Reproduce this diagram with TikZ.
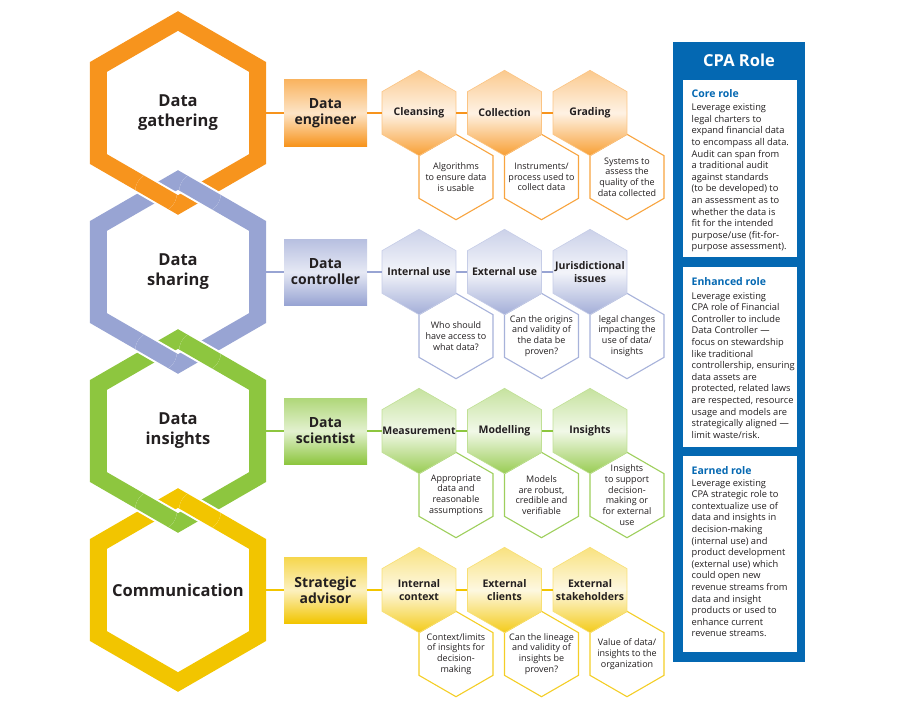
\documentclass[tikz,border=0pt]{standalone}
\usepackage{fontspec}
\setmainfont{Open Sans}
\usetikzlibrary{shapes.geometric, positioning, calc}
\definecolor{cgather}{RGB}{247,148,29}
\definecolor{cshare}{RGB}{152,164,211}
\definecolor{cinsight}{RGB}{141,198,63}
\definecolor{ccomm}{RGB}{242,197,0}
\definecolor{cpablue}{RGB}{4,104,178}
\definecolor{inkdark}{RGB}{35,31,32}

\begin{document}
\begin{tikzpicture}[x=1pt, y=-1pt,
    ring/.style={line width=17pt, line join=miter},
    ringover/.style={draw=white, line width=2pt, double=#1, double distance=17pt, line join=miter},
    hubtext/.style={align=center, inner sep=0pt, font=\bfseries\fontsize{16.5}{20}\selectfont, text=inkdark},
    rolebox/.style={rectangle, minimum width=83pt, minimum height=66pt, inner sep=0pt, align=center, font=\bfseries\fontsize{14}{16}\selectfont, text=inkdark, top color=#1!70, bottom color=#1, middle color=#1!25},
    tophex/.style={regular polygon, regular polygon sides=6, shape border rotate=30, minimum size=85.4pt, inner sep=0pt, draw=#1!55, line width=0.6pt, top color=#1!50, bottom color=#1!90, middle color=#1!12},
    toptext/.style={align=center, inner sep=0pt, font=\bfseries\fontsize{10.5}{13}\selectfont, text=inkdark},
    deschex/.style={regular polygon, regular polygon sides=6, shape border rotate=30, minimum size=85.4pt, inner sep=0pt, fill=white, draw=#1!85, line width=1.1pt},
    desctext/.style={align=center, inner sep=0pt, font=\fontsize{9}{10.7}\selectfont, text=inkdark},
    link/.style={line width=2.5pt},
    cardbox/.style={rectangle, fill=white, minimum width=114pt, inner sep=0pt, anchor=north west},
    cardhead/.style={inner sep=0pt, anchor=base west, font=\bfseries\fontsize{10.5}{12}\selectfont, text=cpablue},
    cardtext/.style={align=left, inner sep=0pt, anchor=base west, font=\fontsize{9.3}{11.6}\selectfont, text=inkdark},
]
    \useasboundingbox (0,0) rectangle (904,706);

    % big hexagon labels
    \node[hubtext] (hub1) at (178,113) {Data\\gathering};
    \node[hubtext] (hub2) at (178,272) {Data\\sharing};
    \node[hubtext] (hub3) at (178,431) {Data\\insights};
    \node[hubtext] (hub4) at (178,590) {Communication};
    \coordinate (hub1e) at (262,113);
    \coordinate (hub2e) at (262,272);
    \coordinate (hub3e) at (262,431);
    \coordinate (hub4e) at (262,590);

    % roles
    \node[rolebox=cgather] (role1) at (325.5,113) {Data\\engineer};
    \node[rolebox=cshare] (role2) at (325.5,272) {Data\\controller};
    \node[rolebox=cinsight] (role3) at (325.5,431) {Data\\scientist};
    \node[rolebox=ccomm] (role4) at (325.5,590) {Strategic\\advisor};

    % description hexagons
    \node[deschex=cgather] (d11) at (456,177) {};
    \node[deschex=cgather] (d12) at (541.5,177) {};
    \node[deschex=cgather] (d13) at (627,177) {};
    \node[deschex=cshare] (d21) at (456,336) {};
    \node[deschex=cshare] (d22) at (541.5,336) {};
    \node[deschex=cshare] (d23) at (627,336) {};
    \node[deschex=cinsight] (d31) at (456,495) {};
    \node[deschex=cinsight] (d32) at (541.5,495) {};
    \node[deschex=cinsight] (d33) at (627,495) {};
    \node[deschex=ccomm] (d41) at (456,654) {};
    \node[deschex=ccomm] (d42) at (541.5,654) {};
    \node[deschex=ccomm] (d43) at (627,654) {};

    % task hexagons
    \node[tophex=cgather] (p11) at (419,113) {};
    \node[tophex=cgather] (p12) at (504.5,113) {};
    \node[tophex=cgather] (p13) at (590,113) {};
    \node[tophex=cshare] (p21) at (419,272) {};
    \node[tophex=cshare] (p22) at (504.5,272) {};
    \node[tophex=cshare] (p23) at (590,272) {};
    \node[tophex=cinsight] (p31) at (419,431) {};
    \node[tophex=cinsight] (p32) at (504.5,431) {};
    \node[tophex=cinsight] (p33) at (590,431) {};
    \node[tophex=ccomm] (p41) at (419,590) {};
    \node[tophex=ccomm] (p42) at (504.5,590) {};
    \node[tophex=ccomm] (p43) at (590,590) {};

    \node[toptext] (n11) at (p11) {Cleansing};
    \node[toptext] (n12) at (p12) {Collection};
    \node[toptext] (n13) at (p13) {Grading};
    \node[toptext] (n21) at (p21) {Internal use};
    \node[toptext] (n22) at (p22) {External use};
    \node[toptext] (n23) at (p23) {Jurisdictional\\issues};
    \node[toptext] (n31) at (p31) {Measurement};
    \node[toptext] (n32) at (p32) {Modelling};
    \node[toptext] (n33) at (p33) {Insights};
    \node[toptext] (n41) at (p41) {Internal\\context};
    \node[toptext] (n42) at (p42) {External\\clients};
    \node[toptext] (n43) at (p43) {External\\stakeholders};

    \node[desctext] (t11) at (d11) {Algorithms\\to ensure data\\is usable};
    \node[desctext] (t12) at (d12) {Instruments/\\process used to\\collect data};
    \node[desctext] (t13) at (d13) {Systems to\\assess the\\quality of the\\data collected};
    \node[desctext] (t21) at (d21) {Who should\\have access to\\what data?};
    \node[desctext] (t22) at (d22) {Can the origins\\and validity of\\the data be\\proven?};
    \node[desctext] (t23) at (d23) {legal changes\\impacting the\\use of data/\\insights};
    \node[desctext] (t31) at (d31) {Appropriate\\data and\\reasonable\\assumptions};
    \node[desctext] (t32) at (d32) {Models\\are robust,\\credible and\\verifiable};
    \node[desctext] (t33) at (d33) {Insights\\to support\\decision-\\making or\\for external\\use};
    \node[desctext] (t41) at (d41) {Context/limits\\of insights for\\decision-\\making};
    \node[desctext] (t42) at (d42) {Can the lineage\\and validity of\\insights be\\proven?};
    \node[desctext] (t43) at (d43) {Value of data/\\insights to the\\organization};

    % connectors
    \draw[link, cgather] (hub1e) -- (role1.west) (role1.east) -- (p11.west) (p11.east) -- (p12.west) (p12.east) -- (p13.west);
    \draw[link, cshare] (hub2e) -- (role2.west) (role2.east) -- (p21.west) (p21.east) -- (p22.west) (p22.east) -- (p23.west);
    \draw[link, cinsight] (hub3e) -- (role3.west) (role3.east) -- (p31.west) (p31.east) -- (p32.west) (p32.east) -- (p33.west);
    \draw[link, ccomm] (hub4e) -- (role4.west) (role4.east) -- (p41.west) (p41.east) -- (p42.west) (p42.east) -- (p43.west);

    % chain of big hexagons
    \foreach \h/\c in {hub1/cgather, hub2/cshare, hub3/cinsight, hub4/ccomm}
        \draw[ring, \c] ($(\h)+(90:92pt)$) -- ++(-30:92pt) -- ++(-90:92pt) -- ++(-150:92pt) -- ++(150:92pt) -- ++(90:92pt) -- cycle;
    \foreach \u/\l/\cu/\cl in {hub1/hub2/cgather/cshare, hub2/hub3/cshare/cinsight, hub3/hub4/cinsight/ccomm} {
        \begin{scope}
            \clip ($(\u)!0.5!(\l)+(-22pt,0pt)$) circle (21pt);
            \draw[ringover=\cu] ($(\u)+(90:92pt)$) -- ++(-30:92pt) -- ++(-90:92pt) -- ++(-150:92pt) -- ++(150:92pt) -- ++(90:92pt) -- cycle;
        \end{scope}
        \begin{scope}
            \clip ($(\u)!0.5!(\l)+(22pt,0pt)$) circle (21pt);
            \draw[ringover=\cl] ($(\l)+(90:92pt)$) -- ++(-30:92pt) -- ++(-90:92pt) -- ++(-150:92pt) -- ++(150:92pt) -- ++(90:92pt) -- cycle;
        \end{scope}
    }

    % CPA panel
    \node[fill=cpablue, minimum width=132pt, minimum height=620pt, inner sep=0pt, anchor=north west] (cpa) at (673,42) {};
    \node[anchor=base, inner sep=0pt, text=white, font=\bfseries\fontsize{16.5}{18}\selectfont] (cpatitle) at (739,66.7) {CPA Role};
    \node[cardbox, minimum height=177pt] (card1) at (683,80) {};
    \node[cardbox, minimum height=180pt] (card2) at (683,267) {};
    \node[cardbox, minimum height=196pt] (card3) at (683,456) {};

    % body nodes sit on the baseline of their last line
    \node[cardhead] (head1) at (691.5,97.3) {Core role};
    \node[cardtext] (body1) at (691.5,249.9) {Leverage existing\\legal charters to\\expand financial data\\to encompass all data.\\Audit can span from\\a traditional audit\\against standards\\(to be developed) to\\an assessment as to\\whether the data is\\fit for the intended\\purpose/use (fit-for-\\purpose assessment).};
    \node[cardhead] (head2) at (691.5,285.7) {Enhanced role};
    \node[cardtext] (body2) at (691.5,438.2) {Leverage existing\\CPA role of Financial\\Controller to include\\Data Controller —\\focus on stewardship\\like traditional\\controllership, ensuring\\data assets are\\protected, related laws\\are respected, resource\\usage and models are\\strategically aligned —\\limit waste/risk.};
    \node[cardhead] (head3) at (691.5,474) {Earned role};
    \node[cardtext] (body3) at (691.5,636.8) {Leverage existing\\CPA strategic role to\\contextualize use of\\data and insights in\\decision-making\\(internal use) and\\product development\\(external use) which\\could open new\\revenue streams from\\data and insight\\products or used to\\enhance current\\revenue streams.};
\end{tikzpicture}
\end{document}
